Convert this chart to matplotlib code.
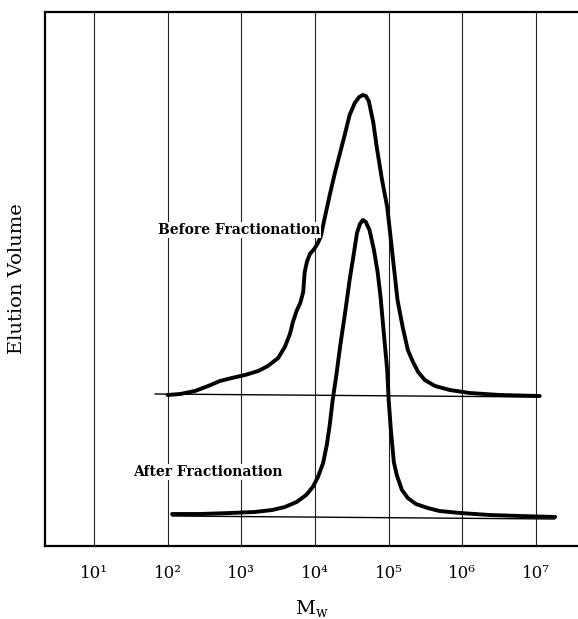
import numpy as np
from matplotlib import pyplot as plt

# log10(Mw) positions and elution signal (arbitrary units)
before_logm = [2.00, 2.17, 2.37, 2.55, 2.71, 2.87, 3.05, 3.23, 3.36, 3.50, 3.59, 3.66,
               3.70, 3.75, 3.80, 3.84, 3.85, 3.86, 3.89, 3.93, 3.99, 4.04, 4.08, 4.12,
               4.20, 4.27, 4.34, 4.41, 4.47, 4.54, 4.60, 4.65, 4.69, 4.73, 4.79, 4.84,
               4.91, 4.98, 5.02, 5.06, 5.12, 5.19, 5.26, 5.33, 5.40, 5.49, 5.63, 5.83,
               6.10, 6.51, 7.05]
before_sig = [151, 152, 155, 160, 165, 168, 171, 175, 180, 188, 199, 212,
              224, 235, 243, 254, 264, 274, 284, 292, 297, 303, 310, 324,
              351, 373, 393, 413, 431, 443, 449, 451, 450, 445, 424, 398,
              366, 339, 313, 286, 246, 219, 196, 184, 174, 166, 160, 156,
              153, 151, 150]

after_logm = [2.06, 2.44, 2.85, 3.18, 3.42, 3.59, 3.75, 3.88, 3.97, 4.04, 4.11, 4.16,
              4.20, 4.24, 4.29, 4.34, 4.41, 4.47, 4.53, 4.57, 4.61, 4.65, 4.69, 4.74,
              4.80, 4.85, 4.89, 4.93, 4.98, 5.00, 5.03, 5.07, 5.11, 5.18, 5.26, 5.37,
              5.53, 5.69, 5.97, 6.37, 6.78, 7.26]
after_sig = [32, 32, 33, 34, 36, 39, 44, 51, 59, 69, 83, 101,
             121, 146, 171, 199, 234, 266, 294, 313, 322, 326, 324, 316,
             296, 274, 249, 216, 176, 146, 116, 84, 71, 56, 48, 42,
             38, 35, 33, 31, 30, 29]

before_base_logm = [1.83, 7.05]
before_base_sig = [152, 149]
after_base_logm = [2.06, 7.25]
after_base_sig = [30, 27]

decades = [1, 2, 3, 4, 5, 6, 7]
tick_labels = ['10¹', '10²', '10³', '10⁴', '10⁵', '10⁶', '10⁷']

plt.rcParams['font.family'] = ['DejaVu Serif']

fig = plt.figure(figsize=(5.78, 6.19), dpi=100)
ax = fig.add_axes([45 / 578, 73 / 619, 533 / 578, 534 / 619])

to_m = lambda v: 10 ** np.asarray(v)

for d in decades:
    ax.axvline(10 ** d, color='#222222', lw=0.8, zorder=1)

ax.plot(to_m(before_base_logm), before_base_sig, color='black', lw=1.0, zorder=2)
ax.plot(to_m(after_base_logm), after_base_sig, color='black', lw=1.0, zorder=2)
ax.plot(to_m(before_logm), before_sig, color='black', lw=2.8,
        solid_capstyle='round', solid_joinstyle='round', zorder=3)
ax.plot(to_m(after_logm), after_sig, color='black', lw=2.8,
        solid_capstyle='round', solid_joinstyle='round', zorder=3)

ax.text(10 ** 1.87, 316, 'Before Fractionation', fontsize=10, fontweight='bold',
        va='center', ha='left', zorder=4,
        bbox=dict(facecolor='white', edgecolor='none', pad=0.5))
ax.text(10 ** 1.53, 74, 'After Fractionation', fontsize=10, fontweight='bold',
        va='center', ha='left', zorder=4,
        bbox=dict(facecolor='white', edgecolor='none', pad=0.5))

ax.set_xscale('log')
ax.set_xlim(10 ** 0.335, 10 ** 7.57)
ax.set_ylim(0, 534)
ax.set_xticks([10 ** d for d in decades])
ax.set_xticklabels(tick_labels, fontsize=12)
ax.xaxis.set_minor_locator(plt.NullLocator())
ax.tick_params(axis='x', length=0, pad=14)
ax.set_yticks([])

for s in ['left', 'bottom', 'top']:
    ax.spines[s].set_linewidth(1.6)
ax.spines['right'].set_visible(False)

ax.set_xlabel('M$_\\mathregular{w}$', fontsize=14, labelpad=12)
ax.set_ylabel('Elution Volume', fontsize=14, labelpad=14)

fig.savefig('out.png', dpi=100)
